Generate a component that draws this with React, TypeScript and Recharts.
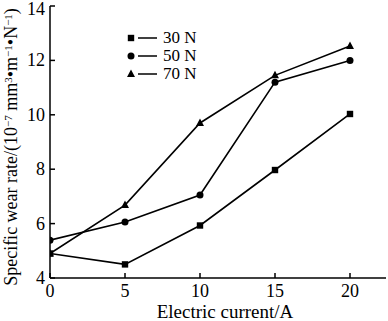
import { LineChart, Line, XAxis, YAxis } from 'recharts';

const CURRENTS = [0, 5, 10, 15, 20];
const X_TICKS = [0, 5, 10, 15, 20];
const Y_TICKS = [4, 6, 8, 10, 12, 14];

const WEAR_30N = [4.9, 4.5, 5.93, 7.97, 10.03];
const WEAR_50N = [5.39, 6.06, 7.05, 11.2, 12.0];
const WEAR_70N = [4.9, 6.68, 9.7, 11.45, 12.53];

const SERIES = [
  { key: 'n30', name: '30 N', values: WEAR_30N, shape: 'square' },
  { key: 'n50', name: '50 N', values: WEAR_50N, shape: 'circle' },
  { key: 'n70', name: '70 N', values: WEAR_70N, shape: 'triangle' },
] as const;

const FONT = '"Liberation Serif", "Times New Roman", serif';

const data = CURRENTS.map((c, i) => ({
  current: c,
  n30: WEAR_30N[i],
  n50: WEAR_50N[i],
  n70: WEAR_70N[i],
}));

function Marker({ cx, cy, shape }: { cx: number; cy: number; shape: string }) {
  if (shape === 'square') {
    return <rect x={cx - 3.2} y={cy - 3.2} width={6.4} height={6.4} fill="#000" />;
  }
  if (shape === 'circle') {
    return <circle cx={cx} cy={cy} r={3.5} fill="#000" />;
  }
  return (
    <polygon
      points={`${cx},${cy - 4.5} ${cx - 4},${cy + 3} ${cx + 4},${cy + 3}`}
      fill="#000"
    />
  );
}

function XTick({ x, y, payload }: any) {
  return (
    <text x={x} y={y} dy={14} textAnchor="middle" fontFamily={FONT} fontSize={18} fill="#000">
      {payload.value}
    </text>
  );
}

function YTick({ x, y, payload }: any) {
  return (
    <text x={x} y={y} dy={6} textAnchor="end" fontFamily={FONT} fontSize={18} fill="#000">
      {payload.value}
    </text>
  );
}

function LegendBox() {
  return (
    <div
      style={{
        position: 'absolute',
        left: 127,
        top: 29,
        fontFamily: FONT,
        fontSize: 17,
        color: '#000',
        pointerEvents: 'none',
      }}
    >
      {SERIES.map((s) => (
        <div key={s.key} style={{ display: 'flex', alignItems: 'center', height: 18 }}>
          <svg width={31} height={14}>
            <Marker cx={4} cy={7} shape={s.shape} />
            <line x1={11} y1={7} x2={30} y2={7} stroke="#000" strokeWidth={1.5} />
          </svg>
          <span style={{ marginLeft: 5, lineHeight: '18px' }}>{s.name}</span>
        </div>
      ))}
    </div>
  );
}

function YLabel() {
  return (
    <text
      transform="translate(17,147) rotate(-90)"
      textAnchor="middle"
      fontFamily={FONT}
      fontSize={18}
      fill="#000"
    >
      Specific wear rate/(10
      <tspan fontSize={11} dy={-5.5}>−7</tspan>
      <tspan dy={5.5}> mm</tspan>
      <tspan fontSize={11} dy={-5.5}>3</tspan>
      <tspan dy={5.5}>•m</tspan>
      <tspan fontSize={11} dy={-5.5}>−1</tspan>
      <tspan dy={5.5}>•N</tspan>
      <tspan fontSize={11} dy={-5.5}>−1</tspan>
      <tspan dy={5.5}>)</tspan>
    </text>
  );
}

export default function App() {
  return (
    <div style={{ position: 'absolute', left: 0, top: 0, width: 388, height: 321, background: '#fff' }}>
      <LineChart
        width={388}
        height={321}
        data={data}
        margin={{ top: 6, right: 2, left: 0, bottom: 0 }}
      >
        <XAxis
          dataKey="current"
          type="number"
          domain={[0, 22.4]}
          ticks={X_TICKS}
          height={43}
          tickSize={-5}
          tickMargin={10}
          tick={<XTick />}
          stroke="#000"
          strokeWidth={1.5}
          allowDataOverflow
        />
        <XAxis
          xAxisId="top"
          orientation="top"
          type="number"
          domain={[0, 22.4]}
          height={0}
          tick={false}
          tickLine={false}
          stroke="#666"
          strokeWidth={1.5}
        />
        <YAxis
          type="number"
          domain={[4, 14]}
          ticks={Y_TICKS}
          width={50}
          tickSize={-5}
          tickMargin={10}
          tick={<YTick />}
          stroke="#000"
          strokeWidth={1.5}
          allowDataOverflow
        />
        <YAxis
          yAxisId="right"
          orientation="right"
          width={0}
          tick={false}
          tickLine={false}
          stroke="#666"
          strokeWidth={1.5}
        />
        {SERIES.map((s) => (
          <Line
            key={s.key}
            dataKey={s.key}
            name={s.name}
            stroke="#000"
            strokeWidth={1.6}
            isAnimationActive={false}
            dot={(p: any) => <Marker key={`${s.key}-${p.index}`} cx={p.cx} cy={p.cy} shape={s.shape} />}
            activeDot={false}
          />
        ))}
        <YLabel />
        <text x={225} y={318} textAnchor="middle" fontFamily={FONT} fontSize={19} fill="#000">
          Electric current/A
        </text>
      </LineChart>
      <LegendBox />
    </div>
  );
}
